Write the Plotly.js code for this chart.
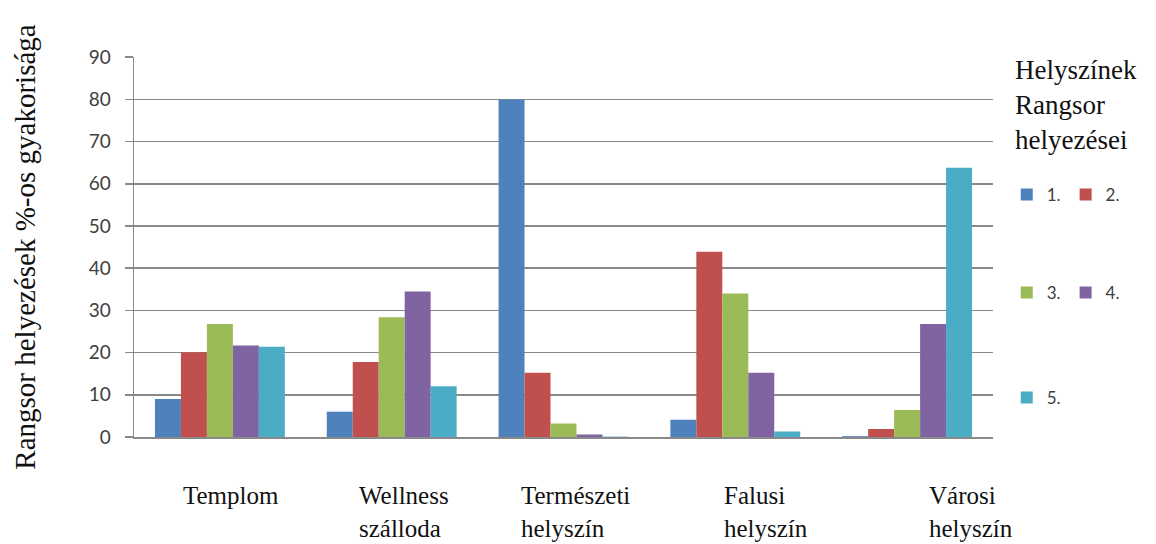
<!DOCTYPE html>
<html>
<head>
<meta charset="utf-8">
<script src="https://cdn.plot.ly/plotly-3.0.1.min.js"></script>
<style>html,body{margin:0;padding:0;background:#fff;}#chart{width:1156px;height:544px;}</style>
</head>
<body>
<div id="chart"></div>
<script>
// ---- data ----
const categories = ['Templom', 'Wellness szálloda', 'Természeti helyszín', 'Falusi helyszín', 'Városi helyszín'];
const categoryLabels = ['Templom', 'Wellness<br>szálloda', 'Természeti<br>helyszín', 'Falusi<br>helyszín', 'Városi<br>helyszín'];
const seriesNames = ['1.', '2.', '3.', '4.', '5.'];
const rank1 = [9.0, 6.0, 80.0, 4.1, 0.2];
const rank2 = [20.1, 17.8, 15.2, 43.9, 1.9];
const rank3 = [26.8, 28.4, 3.2, 34.0, 6.4];
const rank4 = [21.7, 34.5, 0.6, 15.2, 26.8];
const rank5 = [21.4, 12.0, 0.1, 1.3, 63.8];
const yTickValues = [0, 10, 20, 30, 40, 50, 60, 70, 80, 90];
const yTitle = 'Rangsor helyezések %-os gyakorisága';
const legendTitle = 'Helyszínek<br>Rangsor<br>helyezései';

// ---- styles ----
const colors = ['#4F81BD', '#C0504D', '#9BBB59', '#8064A2', '#4BACC6'];
const legendIds = ['legend', 'legend', 'legend2', 'legend2', 'legend3'];
const labelShift = [-39, -35, -45, -13, 20];

const series = [rank1, rank2, rank3, rank4, rank5];
const traces = series.map((vals, i) => ({
  type: 'bar',
  name: seriesNames[i],
  x: categories,
  y: vals,
  marker: {color: colors[i], line: {width: 0}},
  legend: legendIds[i],
  hoverinfo: 'x+y+name'
}));

const serif = '"Liberation Serif", serif';
const sans = 'Lato, "Open Sans", sans-serif';

const annotations = categoryLabels.map((t, i) => ({
  text: t,
  x: categories[i],
  xref: 'x',
  xshift: labelShift[i],
  xanchor: 'left',
  align: 'left',
  y: -0.112,
  yref: 'paper',
  yanchor: 'top',
  showarrow: false,
  font: {family: serif, size: 25, color: '#111'}
}));
annotations.push({
  text: legendTitle,
  x: 1.0,
  xref: 'paper',
  xshift: 20,
  xanchor: 'left',
  align: 'left',
  y: 1.01,
  yref: 'paper',
  yanchor: 'top',
  showarrow: false,
  font: {family: serif, size: 27, color: '#111'}
});

const legendBase = {
  orientation: 'h',
  xref: 'paper',
  x: 1.016,
  xanchor: 'left',
  yanchor: 'middle',
  bgcolor: 'rgba(0,0,0,0)',
  font: {family: sans, size: 17, color: '#404040'},
  traceorder: 'normal'
};

const layout = {
  width: 1156,
  height: 544,
  margin: {l: 134, r: 163, t: 57, b: 107, autoexpand: false},
  paper_bgcolor: '#fff',
  plot_bgcolor: '#fff',
  barmode: 'group',
  bargap: 0.244,
  bargroupgap: 0,
  showlegend: true,
  legend: Object.assign({}, legendBase, {y: 0.637}),
  legend2: Object.assign({}, legendBase, {y: 0.379}),
  legend3: Object.assign({}, legendBase, {y: 0.103}),
  xaxis: {
    type: 'category',
    range: [-0.5, 4.5],
    showticklabels: false,
    ticks: '',
    showgrid: false,
    showline: true,
    linecolor: '#898989',
    linewidth: 1.5,
    zeroline: false,
    automargin: false
  },
  yaxis: {
    range: [0, 90.05],
    tickvals: yTickValues,
    showgrid: true,
    gridcolor: '#898989',
    gridwidth: 1.5,
    showline: true,
    linecolor: '#898989',
    linewidth: 1.5,
    ticks: 'outside',
    ticklen: 8,
    tickwidth: 1.5,
    tickcolor: '#898989',
    ticklabelstandoff: 10,
    zeroline: false,
    automargin: false,
    tickfont: {family: sans, size: 19, color: '#404040'},
    title: {text: yTitle, font: {family: serif, size: 29, color: '#111'}, standoff: 44}
  },
  annotations: annotations
};

Plotly.newPlot('chart', traces, layout, {displayModeBar: false, staticPlot: true});
</script>
</body>
</html>
